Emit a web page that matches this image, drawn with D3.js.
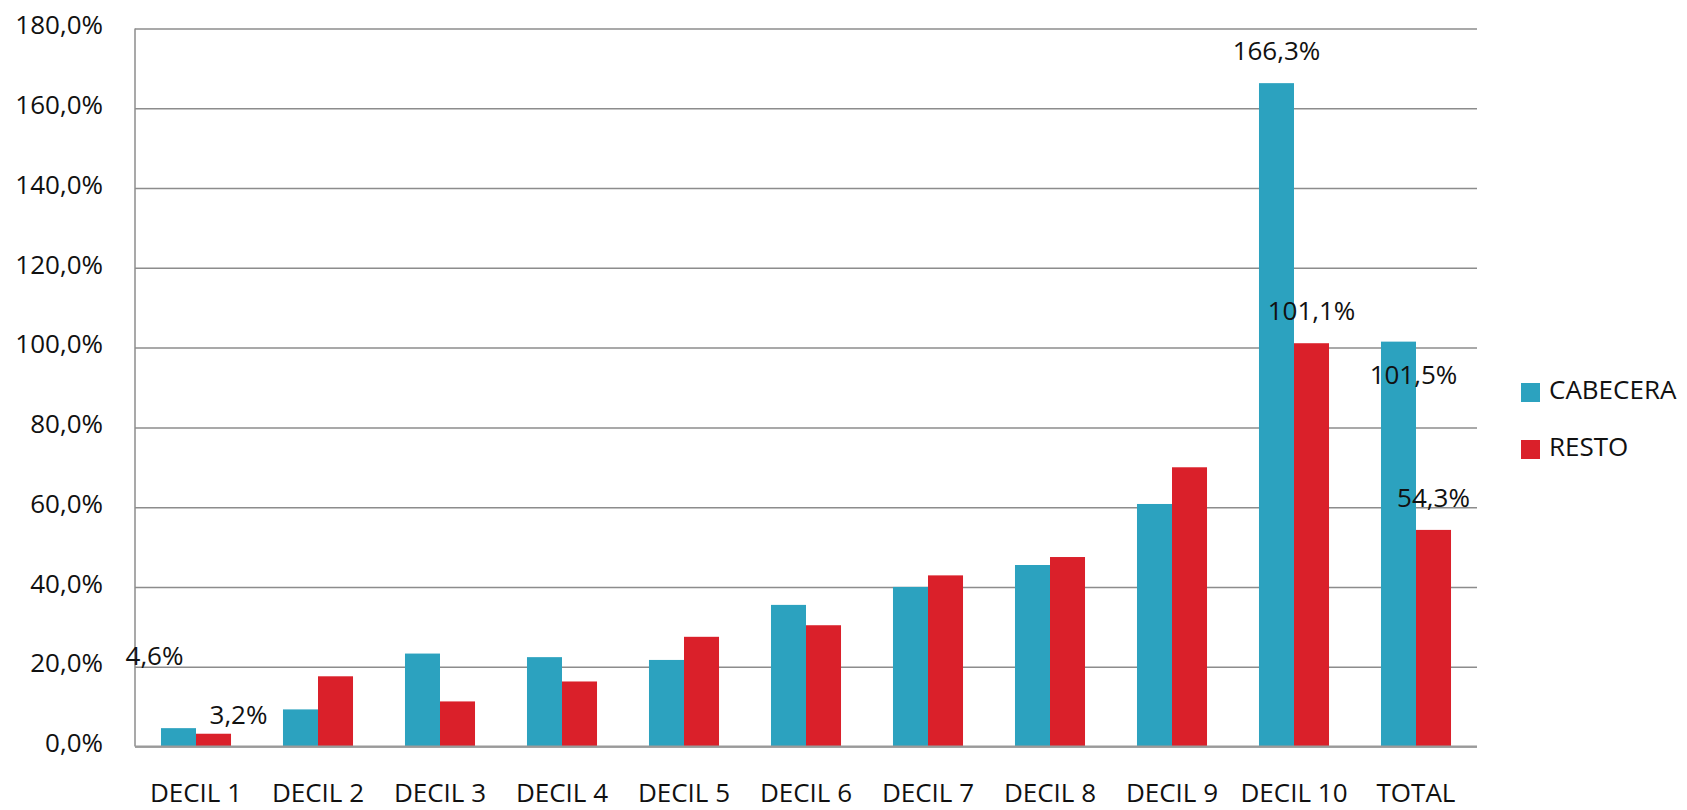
<!DOCTYPE html>
<html>
<head>
<meta charset="utf-8">
<script src="https://cdn.jsdelivr.net/npm/d3@7"></script>
<style>
  body { margin: 0; background: #fff; }
  text { font-family: "Open Sans", "Noto Sans", sans-serif; fill: #111; }
</style>
</head>
<body>
<div id="chart"></div>
<script>
// data
var categories = ["DECIL 1", "DECIL 2", "DECIL 3", "DECIL 4", "DECIL 5", "DECIL 6",
                  "DECIL 7", "DECIL 8", "DECIL 9", "DECIL 10", "TOTAL"];
var seriesNames = ["CABECERA", "RESTO"];
var cabecera = [4.6, 9.3, 23.3, 22.4, 21.7, 35.5, 40.0, 45.5, 60.8, 166.3, 101.5];
var resto    = [3.2, 17.6, 11.3, 16.3, 27.5, 30.4, 42.9, 47.5, 70.0, 101.1, 54.3];
var yTicks = [0, 20, 40, 60, 80, 100, 120, 140, 160, 180];
// which bars carry a value label, and how far the label sits from its bar top
var labelled = [
  { series: 0, cat: 0, dx: -24, dy: -63 },
  { series: 1, cat: 0, dx: 25, dy: -10 },
  { series: 0, cat: 9, dx: 0, dy: -23 },
  { series: 1, cat: 9, dx: 0, dy: -23 },
  { series: 0, cat: 10, dx: 15, dy: 42 },
  { series: 1, cat: 10, dx: 0, dy: -23 }
];

var colors = ["#2ca2bf", "#da202a"];
var svgWidth = 1687;
var svgHeight = 810;
var margin = { top: 28.5, right: 210, bottom: 63.5, left: 135 };
var chartWidth = svgWidth - margin.left - margin.right;
var chartHeight = svgHeight - margin.top - margin.bottom;

var values = [cabecera, resto];
var rows = categories.map(function(c, i) {
  return { cat: c, vals: values.map(function(s) { return s[i]; }) };
});

var svg = d3.select("#chart")
  .append("svg")
    .attr("width", svgWidth)
    .attr("height", svgHeight)
  .append("g")
    .attr("transform", "translate(" + margin.left + "," + margin.top + ")");

var x = d3.scaleBand()
  .domain(categories)
  .range([0, chartWidth])
  .paddingInner(0.426)
  .paddingOuter(0.213);

var xSub = d3.scaleBand()
  .domain(d3.range(seriesNames.length))
  .range([0, x.bandwidth()]);

var y = d3.scaleLinear().domain([0, 180]).range([chartHeight, 0]);

var fmt = function(v) { return d3.format(".1f")(v).replace(".", ",") + "%"; };

// gridlines + y labels
var yAxis = d3.axisLeft(y)
  .tickValues(yTicks)
  .tickSize(-chartWidth)
  .tickPadding(32)
  .tickFormat(fmt);

var gy = svg.append("g").attr("class", "y axis").call(yAxis);
gy.select(".domain").remove();
gy.selectAll(".tick line")
  .attr("stroke", "#8c8c8c")
  .attr("stroke-width", 1.5);
gy.selectAll(".tick text")
  .attr("font-size", 26)
  .attr("dy", "0.2em")
  .style("font-family", "'Open Sans', 'Noto Sans', sans-serif")
  .attr("fill", "#111");

// left axis line
svg.append("line")
  .attr("x1", 0).attr("x2", 0)
  .attr("y1", 0).attr("y2", chartHeight)
  .attr("stroke", "#8c8c8c")
  .attr("stroke-width", 1.5);

// bars
var groups = svg.selectAll(".grp")
  .data(rows)
  .enter().append("g")
    .attr("class", "grp")
    .attr("transform", function(d) { return "translate(" + x(d.cat) + ",0)"; });

groups.selectAll("rect")
  .data(function(d) { return d.vals; })
  .enter().append("rect")
    .attr("x", function(v, i) { return xSub(i); })
    .attr("y", function(v) { return y(v); })
    .attr("width", xSub.bandwidth())
    .attr("height", function(v) { return chartHeight - y(v); })
    .attr("fill", function(v, i) { return colors[i]; });

// bottom axis line
svg.append("line")
  .attr("x1", 0).attr("x2", chartWidth)
  .attr("y1", chartHeight).attr("y2", chartHeight)
  .attr("stroke", "#9a9a9a")
  .attr("stroke-width", 2);

// category labels
svg.selectAll(".xlab")
  .data(categories)
  .enter().append("text")
    .attr("class", "xlab")
    .attr("x", function(d) { return x(d) + x.bandwidth() / 2; })
    .attr("y", chartHeight + 55)
    .attr("text-anchor", "middle")
    .attr("font-size", 26)
    .text(function(d) { return d; });

// value labels
svg.selectAll(".vlab")
  .data(labelled)
  .enter().append("text")
    .attr("class", "vlab")
    .attr("x", function(d) { return x(categories[d.cat]) + xSub(d.series) + xSub.bandwidth() / 2 + d.dx; })
    .attr("y", function(d) { return y(values[d.series][d.cat]) + d.dy; })
    .attr("text-anchor", "middle")
    .attr("font-size", 26)
    .text(function(d) { return fmt(values[d.series][d.cat]); });

// legend
var legend = svg.append("g")
  .attr("transform", "translate(" + (chartWidth + 44) + "," + (383 - margin.top) + ")");

var li = legend.selectAll(".li")
  .data(seriesNames)
  .enter().append("g")
    .attr("class", "li")
    .attr("transform", function(d, i) { return "translate(0," + i * 57 + ")"; });

li.append("rect")
  .attr("width", 19)
  .attr("height", 19)
  .attr("fill", function(d, i) { return colors[i]; });

li.append("text")
  .attr("x", 28)
  .attr("y", 16)
  .attr("font-size", 26)
  .text(function(d) { return d; });
</script>
</body>
</html>
